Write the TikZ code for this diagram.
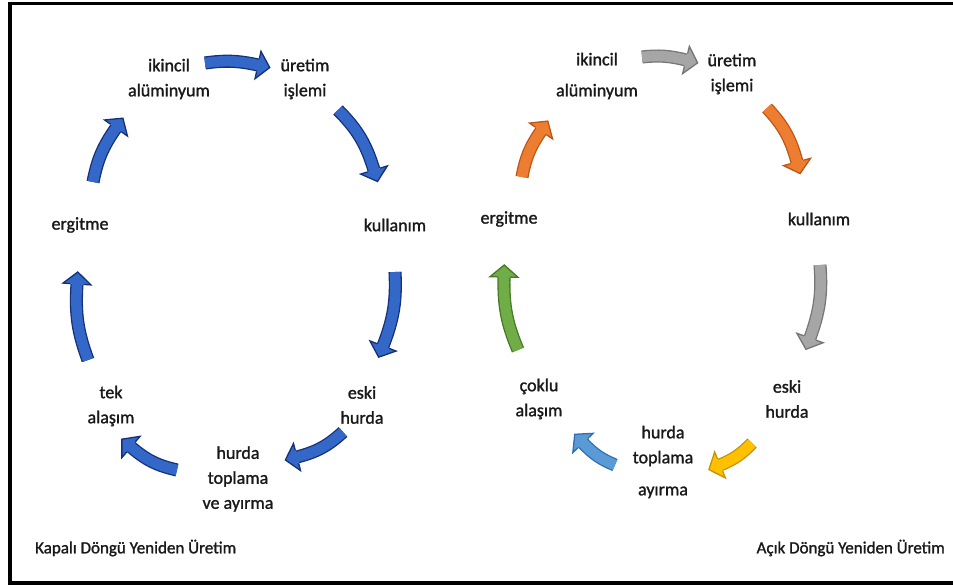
\documentclass[tikz,border=0pt]{standalone}
\usepackage{fontspec}
\setmainfont{Carlito}
\newfontfamily\lblfont[FakeBold=1.3]{Carlito}
\usetikzlibrary{decorations.markings}
\definecolor{txt}{RGB}{25,25,25}
\definecolor{bluef}{RGB}{52,104,200}
\definecolor{blued}{RGB}{22,48,120}
\definecolor{grayf}{RGB}{166,166,166}
\definecolor{grayd}{RGB}{118,118,118}
\definecolor{orangef}{RGB}{237,125,49}
\definecolor{oranged}{RGB}{190,85,20}
\definecolor{yellowf}{RGB}{255,192,0}
\definecolor{yellowd}{RGB}{200,145,0}
\definecolor{lbluef}{RGB}{91,155,213}
\definecolor{lblued}{RGB}{46,110,180}
\definecolor{greenf}{RGB}{112,173,71}
\definecolor{greend}{RGB}{70,120,40}
\tikzset{
  lbl/.style={font=\lblfont\fontsize{18}{25}\selectfont, align=center, inner sep=0pt, text=txt},
  captxt/.style={font=\lblfont\fontsize{17}{20}\selectfont, inner sep=0pt, text=txt},
  barrow/.style 2 args={draw=#2, line width=1.3pt, double=#1, double distance=10.5pt,
    postaction={decorate, decoration={markings, mark=at position 1 with {
      \fill[#1] (-0.6pt,-5pt) -- (-0.6pt,5pt) -- (0,5pt) -- (0,14pt) -- (12pt,0) -- (0,-14pt) -- (0,-5pt) -- cycle;
      \draw[#2, line width=1.3pt, line join=miter] (0,6.5pt) -- (0,14pt) -- (12pt,0) -- (0,-14pt) -- (0,-6.5pt);
    }}}},
}
\begin{document}
\begin{tikzpicture}[x=1pt,y=1pt]
\useasboundingbox (0,0) rectangle (953,588);
\fill[white] (0,0) rectangle (953,588);
\draw[line width=3.5pt] (953,584.5) -- (10,584.5) -- (10,5) -- (953,5);

% left: closed loop
\node[lbl] (Likincil) at (169,509) {ikincil\\alüminyum};
\node[lbl] (Luretim) at (305,509) {üretim\\işlemi};
\node[lbl] (Lkullanim) at (395,363) {kullanım};
\node[lbl] (Leski) at (362,183) {eski\\hurda};
\node[lbl] (Lhurda) at (238,109) {hurda\\toplama\\ve ayırma};
\node[lbl] (Ltek) at (111,182) {tek\\alaşım};
\node[lbl] (Lergitme) at (80,363) {ergitme};
\node[captxt, anchor=west] (Lcap) at (35,40) {Kapalı Döngü Yeniden Üretim};

\coordinate (L1s) at (205,525); \coordinate (L1e) at (258,523);
\coordinate (L2s) at (338,478); \coordinate (L2e) at (374,418);
\coordinate (L3s) at (395,316); \coordinate (L3e) at (383,242);
\coordinate (L4s) at (343,156); \coordinate (L4e) at (297,131);
\coordinate (L5s) at (177,118); \coordinate (L5e) at (131,141);
\coordinate (L6s) at (88,228);  \coordinate (L6e) at (77,304);
\coordinate (L7s) at (93,406);  \coordinate (L7e) at (116,460);
\draw[barrow={bluef}{blued}] (L1s) to[bend left=10] (L1e);
\draw[barrow={bluef}{blued}] (L2s) to[bend left=14] (L2e);
\draw[barrow={bluef}{blued}] (L3s) to[bend left=12] (L3e);
\draw[barrow={bluef}{blued}] (L4s) to[bend left=14] (L4e);
\draw[barrow={bluef}{blued}] (L5s) to[bend left=14] (L5e);
\draw[barrow={bluef}{blued}] (L6s) to[bend left=12] (L6e);
\draw[barrow={bluef}{blued}] (L7s) to[bend left=12] (L7e);

% right: open loop
\node[lbl] (Rikincil) at (597,512) {ikincil\\[6pt]alüminyum};
\node[lbl] (Ruretim) at (732,514) {üretim\\işlemi};
\node[lbl] (Rkullanim) at (819,369) {kullanım};
\node[lbl] (Reski) at (787,189) {eski\\hurda};
\node[lbl] (Rhurda) at (663,126) {hurda\\toplama\\[7pt]ayırma};
\node[lbl] (Rcoklu) at (539,189) {çoklu\\alaşım};
\node[lbl] (Rergitme) at (509,369) {ergitme};
\node[captxt, anchor=east] (Rcap) at (945,40) {Açık Döngü Yeniden Üretim};

\coordinate (R1s) at (642,531); \coordinate (R1e) at (686,528);
\coordinate (R2s) at (767,480); \coordinate (R2e) at (797,426);
\coordinate (R3s) at (820,323); \coordinate (R3e) at (810,250);
\coordinate (R4s) at (752,145); \coordinate (R4e) at (720,123);
\coordinate (R5s) at (615,123); \coordinate (R5e) at (583,145);
\coordinate (R6s) at (518,238); \coordinate (R6e) at (504,311);
\coordinate (R7s) at (522,411); \coordinate (R7e) at (541,457);
\draw[barrow={grayf}{grayd}] (R1s) to[bend left=10] (R1e);
\draw[barrow={orangef}{oranged}] (R2s) to[bend left=14] (R2e);
\draw[barrow={grayf}{grayd}] (R3s) to[bend left=12] (R3e);
\draw[barrow={yellowf}{yellowd}] (R4s) to[bend left=12] (R4e);
\draw[barrow={lbluef}{lblued}] (R5s) to[bend left=12] (R5e);
\draw[barrow={greenf}{greend}] (R6s) to[bend left=12] (R6e);
\draw[barrow={orangef}{oranged}] (R7s) to[bend left=12] (R7e);
\end{tikzpicture}
\end{document}
